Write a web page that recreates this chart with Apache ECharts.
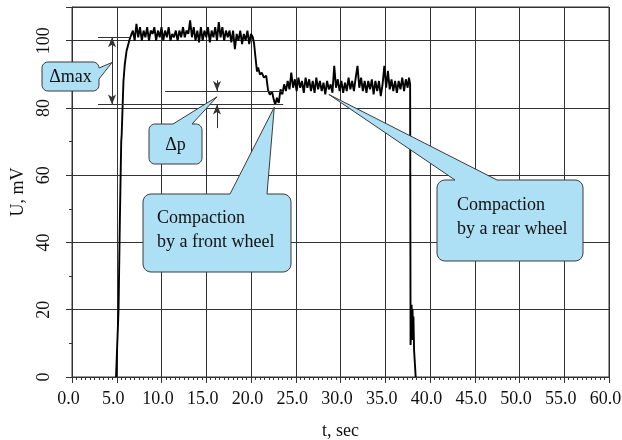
<!DOCTYPE html>
<html><head><meta charset="utf-8">
<script src="https://cdn.jsdelivr.net/npm/echarts@6/dist/echarts.min.js"></script>
<style>html,body{margin:0;padding:0;background:#fff}#c{width:622px;height:440px}</style>
</head><body><div id="c"></div>
<script>
// ---- data (t in seconds, U in mV) ----
const riseT = [4.92, 5.2, 5.35, 5.5, 5.55, 5.75, 5.9, 6.1, 6.3, 6.45];
const riseV = [0, 20, 47, 70, 72, 88, 93, 97, 99, 100.5];

const plateau1T = [6.6,6.8,7.0,7.2,7.4,7.6,7.8,8.0,8.2,8.4,8.6,8.8,9.0,9.2,9.4,9.6,9.8,10.0,10.2,10.4,10.6,10.8,11.0,11.2,11.4,11.6,11.8,12.0,12.2,12.4,12.6,12.8,13.0,13.2,13.4,13.6,13.8,14.0,14.2,14.4,14.6,14.8,15.0,15.2,15.4,15.6,15.8,16.0,16.2,16.4,16.6,16.8,17.0,17.2,17.4,17.6,17.8,18.0,18.2,18.4,18.6,18.8,19.0,19.2,19.4,19.6,19.8,20.0,20.2];
const plateau1V = [101,103,100,105,101,104,100,103,101,104,100,103,102,104,100,103,101,104,100,103,101,104,100,102,101,103,100,103,101,104,101,103,102,106,101,104,100,103,99.5,104,100,103,101,104,99.5,103,101,104,100,105.5,101,104,100,103,101,103,99.5,103,97.5,102,100,103,99,102,100,103,99,102,101];

const dropT = [20.35, 20.5, 20.67, 20.8, 21.0, 21.2, 21.45, 21.7, 21.9, 22.1, 22.35, 22.55, 22.7, 22.9, 23.1];
const dropV = [99, 95, 90.8, 92, 89.9, 90.5, 89, 89.6, 85.4, 83.9, 84.8, 82.4, 81, 83, 81.5];

const plateau2T = [23.3,23.5,23.7,23.9,24.1,24.3,24.5,24.7,24.9,25.1,25.3,25.5,25.7,25.9,26.1,26.3,26.5,26.7,26.9,27.1,27.3,27.5,27.7,27.9,28.1,28.3,28.5,28.7,28.9,29.1,29.3,29.5,29.7,29.9,30.1,30.3,30.5,30.7,30.9,31.1,31.3,31.5,31.7,31.9,32.1,32.3,32.5,32.7,32.9,33.1,33.3,33.5,33.7,33.9,34.1,34.3,34.5,34.7,34.9,35.1,35.3,35.5,35.7,35.9,36.1,36.3,36.5,36.7,36.9,37.1,37.3,37.5,37.65];
const plateau2V = [85.5,84,87,85,88,85.5,90.5,86,88.5,85,89,86,88,84.5,89,86,88.5,85,88,84.5,89,85.5,88,85,87.5,84,88,85.5,87,84.5,92.5,86,88.5,85,88,84.5,87.5,85,89,85.5,88,85,89,92.5,86,89,85,88,84.5,88,85.5,88.5,84,88,85,88,83.5,87,92.5,86,91,85.5,88.5,85,88,84.5,88,85.5,89,85,88.5,86,89];

const fallT = [37.78, 37.83, 37.95, 38.0, 38.05, 38.1, 38.15, 38.22, 38.4];
const fallV = [87, 9.5, 21.5, 11, 20, 13, 18, 8, 0];

// tick values
const xTicks = [0,5,10,15,20,25,30,35,40,45,50,55,60];
const yTicks = [0,20,40,60,80,100];

// annotation reference levels (data coordinates)
const dMaxTop = 101, dLow = 81, dPTop = 85;

const times = [].concat(riseT, plateau1T, dropT, plateau2T, fallT);
const volts = [].concat(riseV, plateau1V, dropV, plateau2V, fallV);
const seriesData = times.map((t, i) => [t, volts[i]]);

const FONT = '"Liberation Serif", "Times New Roman", serif';
const INK = '#333';
const TXT = '#111';

const chart = echarts.init(document.getElementById('c'), null, {renderer: 'canvas'});

const plainLine = (a, b) => [{coord: a, symbol: 'none'}, {coord: b, symbol: 'none'}];
const arrowLine = (a, b, s0, s1) => [{coord: a, symbol: s0}, {coord: b, symbol: s1}];

chart.setOption({
  animation: false,
  grid: {left: 72, right: 13, top: 7, bottom: 63, show: true, borderColor: INK, borderWidth: 1,
    containLabel: false, outerBoundsMode: 'none'},
  xAxis: {
    type: 'value', min: 0, max: 60, interval: 5, offset: 5,
    axisLine: {show: true, lineStyle: {color: INK, width: 1}},
    axisTick: {show: true, length: 6, lineStyle: {color: INK}},
    minorTick: {show: true, splitNumber: 10, length: 3, lineStyle: {color: INK}},
    splitLine: {show: true, lineStyle: {color: INK, width: 1}},
    axisLabel: {formatter: v => xTicks.indexOf(v) >= 0 ? v.toFixed(1) : '', fontFamily: FONT, fontSize: 18, color: TXT,
      margin: 8, padding: [0, 7, 0, 0]},
    name: 't, sec', nameLocation: 'middle', nameGap: 40,
    nameTextStyle: {fontFamily: FONT, fontSize: 18, color: TXT}
  },
  yAxis: {
    type: 'value', min: 0, max: 110, interval: 20, offset: 3,
    axisLine: {show: true, lineStyle: {color: INK, width: 1}},
    axisTick: {show: true, length: 6, lineStyle: {color: INK}},
    minorTick: {show: true, splitNumber: 2, length: 3, lineStyle: {color: INK}},
    splitLine: {show: true, lineStyle: {color: INK, width: 1}},
    axisLabel: {rotate: 90, showMaxLabel: false, formatter: v => yTicks.indexOf(v) >= 0 ? String(v) : '',
      fontFamily: FONT, fontSize: 18, color: TXT, margin: 16},
    name: 'U, mV', nameLocation: 'middle', nameGap: 42,
    nameTextStyle: {fontFamily: FONT, fontSize: 18, color: TXT}
  },
  series: [{
    type: 'line', data: seriesData, showSymbol: false, silent: true,
    lineStyle: {color: '#000', width: 1.9},
    markLine: {
      silent: true, animation: false, symbolSize: [6, 10],
      label: {show: false},
      lineStyle: {color: INK, width: 1, type: 'solid'},
      emphasis: {disabled: true},
      data: [
        plainLine([2.9, dMaxTop], [6.5, dMaxTop]),
        plainLine([2.9, dLow], [23.6, dLow]),
        plainLine([10.4, dPTop], [23.6, dPTop]),
        arrowLine([4.47, dMaxTop], [4.47, dLow], 'arrow', 'arrow'),
        arrowLine([16.2, 88.2], [16.2, dPTop], 'none', 'arrow'),
        arrowLine([16.2, 74], [16.2, dLow], 'none', 'arrow')
      ]
    }
  }]
});

// ---- callouts ----
const callouts = [
  {text: 'Δmax', box: [42, 62, 99, 91], r: 6, side: 'right', base: [68, 79], tip: [4.47, 93.5], tx: 70.5, ty: 77, align: 'center'},
  {text: 'Δp', box: [149, 124, 202, 164], r: 6, side: 'top', base: [173, 192], tip: [16.2, 83.3], tx: 175.5, ty: 145, align: 'center'},
  {text: 'Compaction\nby a front wheel', box: [143, 194, 291, 272], r: 8, side: 'top', base: [230, 267], tip: [22.6, 80.2], tx: 157, ty: 230, align: 'left'},
  {text: 'Compaction\nby a rear wheel', box: [437, 180, 583, 261], r: 8, side: 'top', base: [455, 497], tip: [28.7, 84], tx: 457, ty: 217, align: 'left'}
];

function calloutPoints(c) {
  const [x0, y0, x1, y1] = c.box, r = c.r;
  const tip = chart.convertToPixel({gridIndex: 0}, c.tip);
  const pts = [];
  const arc = (cx, cy, a0, a1) => {
    for (let i = 0; i <= 6; i++) {
      const a = a0 + (a1 - a0) * i / 6;
      pts.push([cx + r * Math.cos(a), cy + r * Math.sin(a)]);
    }
  };
  arc(x0 + r, y0 + r, Math.PI, 1.5 * Math.PI);
  if (c.side === 'top') pts.push([c.base[0], y0], tip, [c.base[1], y0]);
  arc(x1 - r, y0 + r, 1.5 * Math.PI, 2 * Math.PI);
  if (c.side === 'right') pts.push([x1, c.base[0]], tip, [x1, c.base[1]]);
  arc(x1 - r, y1 - r, 0, 0.5 * Math.PI);
  arc(x0 + r, y1 - r, 0.5 * Math.PI, Math.PI);
  return pts;
}

const graphics = [];
callouts.forEach((c, i) => {
  graphics.push({
    type: 'polygon', z: 100, silent: true,
    shape: {points: calloutPoints(c)},
    style: {fill: '#addff5', stroke: '#3a3a3a', lineWidth: 1}
  });
  graphics.push({
    type: 'text', z: 101, silent: true, x: c.tx, y: c.ty,
    style: {text: c.text, font: '18px ' + FONT, fill: TXT,
      textAlign: c.align, textVerticalAlign: 'middle', align: c.align, verticalAlign: 'middle', lineHeight: 24}
  });
});
chart.setOption({graphic: graphics});
</script>
</body></html>
